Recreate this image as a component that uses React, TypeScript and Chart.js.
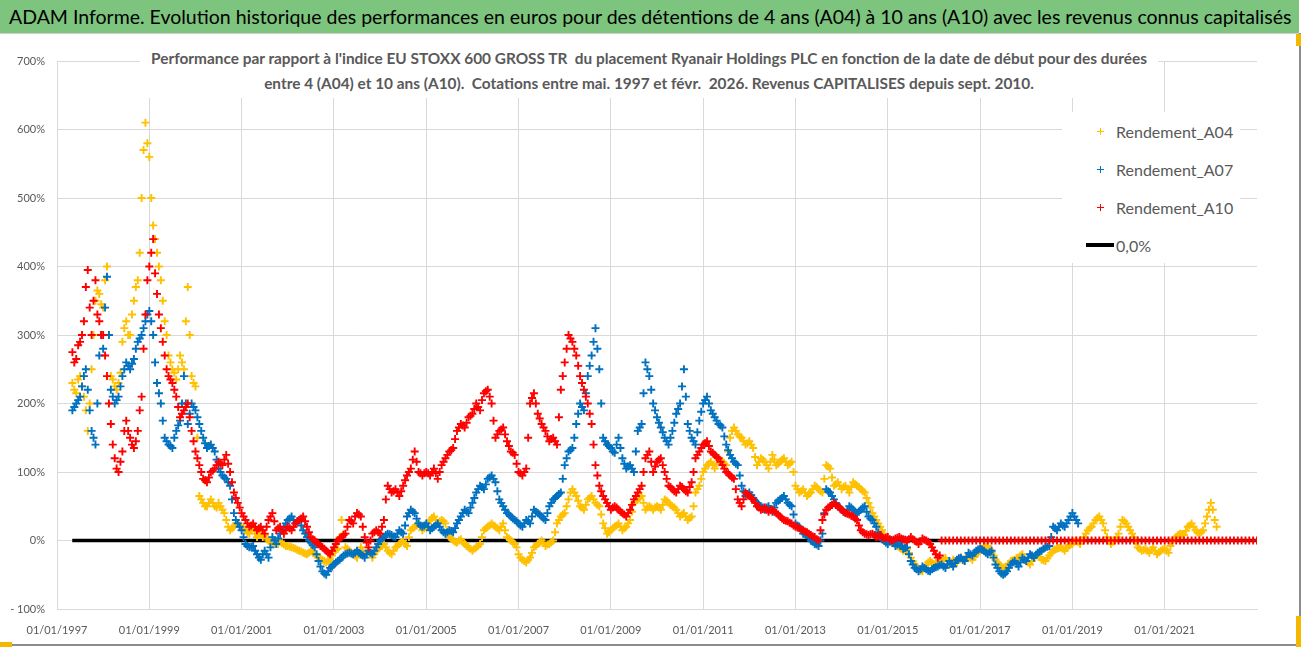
import React, { useEffect, useRef } from "react";
import { Chart, registerables } from "chart.js";

Chart.register(...registerables);

const TITLE =
  "ADAM Informe. Evolution historique des performances en euros pour des détentions de 4 ans (A04) à 10 ans (A10) avec les revenus connus capitalisés";
const SUBTITLE_1 =
  "Performance par rapport à l'indice EU STOXX 600 GROSS TR  du placement Ryanair Holdings PLC en fonction de la date de début pour des durées";
const SUBTITLE_2 =
  "entre 4 (A04) et 10 ans (A10).  Cotations entre mai. 1997 et févr.  2026. Revenus CAPITALISES depuis sept. 2010.";

const SERIES_NAMES = ["Rendement_A04", "Rendement_A07", "Rendement_A10", "0,0%"];
const SERIES_COLORS = ["#FFC000", "#0070C0", "#FF0000", "#000000"];

// observations: start of each month and mid-month, first one = May 1997
const FIRST_YEAR = 1997;
const FIRST_MONTH_INDEX = 4;

const A04 = [
  230, 215, 240, 210, 160, 250, 350, 360,
  340, 400, 240, 225, 230, 290, 320, 300, 350, 380, 500, 610,
  560, 460, 420, 380, 320, 270, 250, 235, 270, 250, 370, 240,
  225, 65, 55, 50, 60, 50, 55, 45, 30, 15, 20, 25,
  20, 15, 10, 18, 5, 10, 8, 0, -5, -3, -2, -6,
  -8, -10, -12, -15, -18, -20, -15, -20, -25, -28, -32, -28,
  -15, -12, 30, -10, -15, -20, -25, -10, -20, -15, -25, -15,
  -10, -5, -15, -20, -10, -5, 0, -8, 15, 20, 25, 15,
  20, 30, 35, 25, 30, 25, 5, 0, -3, 2, -5, -10,
  -15, -10, -5, 15, 20, 25, 20, 15, 25, 5, 0, -5,
  -20, -28, -32, -25, -10, -5, 0, -8, -5, 0, 25, 35,
  40, 60, 75, 65, 50, 45, 60, 65, 55, 50, 25, 10,
  15, 20, 25, 15, 20, 30, 55, 60, 65, 45, 50, 45,
  50, 45, 60, 55, 50, 45, 35, 40, 30, 35, 70, 80,
  100, 110, 115, 105, 120, 115, 110, 150, 165, 155, 150, 140,
  145, 135, 110, 120, 115, 105, 125, 110, 115, 120, 110, 115,
  80, 70, 75, 65, 70, 80, 75, 70, 110, 105, 80, 85,
  75, 80, 70, 85, 80, 75, 70, 55, 40, 30, 20, 10,
  5, -3, -5, -10, -15, -12, -25, -35, -42, -45, -35, -30,
  -35, -32, -30, -25, -35, -28, -32, -25, -30, -22, -28, -20,
  -15, -10, -8, -18, -28, -35, -40, -38, -30, -28, -25, -20,
  -30, -35, -25, -20, -28, -30, -22, -15, -12, -10, -15, -8,
  -5, 0, -5, 5, 15, 20, 30, 35, 25, 5, -5, 0,
  10, 30, 25, 15, 5, -10, -15, -12, -18, -10, -20, -15,
  -12, -18, 0, 5, 10, 8, 20, 25, 15, 10, 15, 35,
  55, 30,
];

const A04_MID = [
  220, 235, 225, 190, 200, 300, 365, 345,
  380, 300, 235, 220, 245, 310, 300, 330, 370, 420, 570, 580,
  500, 440, 400, 350, 300, 260, 245, 250, 260, 320, 300, 230,
  150, 60, 50, 55, 55, 48, 50, 40, 20, 18, 25, 22,
  18, 12, 15, 10, 8, 5, 3, -3, -4, -5, -4, -8,
  -9, -11, -14, -16, -19, -18, -18, -22, -27, -30, -30, -22,
  -14, 5, 10, -12, -18, -22, -18, -15, -18, -20, -20, -12,
  -8, -10, -18, -15, -8, -3, -5, 5, 18, 22, 20, 18,
  25, 33, 30, 28, 28, 15, 3, -2, 0, -2, -8, -12,
  -12, -8, 5, 18, 22, 22, 18, 20, 15, 3, -3, -10,
  -25, -30, -28, -18, -8, -3, -4, -6, -3, 12, 30, 38,
  50, 70, 70, 58, 48, 52, 62, 60, 52, 38, 18, 12,
  18, 22, 20, 18, 25, 42, 58, 62, 55, 48, 48, 48,
  48, 52, 58, 52, 48, 40, 38, 35, 33, 50, 75, 90,
  105, 112, 110, 112, 118, 112, 130, 160, 160, 152, 145, 142,
  140, 122, 115, 118, 110, 115, 118, 112, 118, 115, 112, 100,
  75, 72, 70, 68, 75, 78, 72, 90, 108, 92, 82, 80,
  78, 75, 78, 82, 78, 72, 62, 48, 35, 25, 15, 5,
  0, -4, -8, -12, -14, -18, -30, -38, -44, -40, -32, -32,
  -33, -31, -28, -30, -32, -30, -28, -28, -26, -25, -24, -18,
  -12, -9, -13, -22, -32, -38, -39, -34, -29, -26, -22, -25,
  -32, -30, -22, -24, -29, -26, -18, -13, -11, -12, -11, -6,
  -2, -2, 0, 10, 18, 25, 33, 30, 15, 0, -2, 5,
  20, 28, 20, 10, -2, -12, -14, -15, -14, -15, -17, -13,
  -15, -8, 2, 8, 9, 14, 22, 20, 12, 12, 25, 45,
  45, 20,
];

const A07 = [
  190, 200, 210, 240, 220, 160, 140, 270,
  280, 385, 220, 200, 210, 240, 260, 250, 265, 290, 300, 320,
  335, 300, 230, 200, 150, 140, 135, 160, 175, 240, 170, 200,
  190, 170, 150, 135, 140, 130, 105, 95, 90, 80, 40, 25,
  15, -5, -10, -8, -20, -28, -15, -25, 5, -5, 10, 20,
  30, 35, 25, 30, 15, 5, -3, -10, -30, -45, -50, -40,
  -35, -30, -25, -20, -18, -20, -15, -20, -25, -15, -20, -10,
  0, 5, 10, 8, 5, 15, 10, 35, 45, 40, 25, 20,
  25, 15, 20, 25, 15, 10, 15, 12, 25, 35, 45, 40,
  55, 70, 80, 75, 90, 95, 85, 60, 50, 40, 35, 30,
  25, 20, 30, 25, 45, 40, 35, 30, 50, 60, 65, 70,
  110, 130, 135, 170, 200, 190, 240, 270, 310, 250, 150, 140,
  135, 128, 150, 120, 105, 110, 100, 160, 170, 260, 240, 200,
  180, 165, 150, 140, 160, 185, 200, 250, 170, 150, 140, 175,
  200, 210, 190, 180, 170, 165, 140, 125, 115, 110, 80, 65,
  70, 62, 55, 50, 45, 50, 42, 55, 60, 65, 55, 50,
  25, 20, 10, 8, 0, -5, -8, 10, 75, 70, 60, 50,
  45, 40, 50, 45, 40, 45, 50, 35, 30, 20, 5, 0,
  -5, 0, -8, -5, -12, -10, -30, -40, -45, -38, -42, -45,
  -40, -38, -35, -40, -30, -38, -28, -25, -30, -18, -22, -15,
  -12, -15, -20, -15, -35, -45, -50, -45, -35, -30, -38, -25,
  -30, -20, -25, -18, -15, -10, -8, 20, 15, 25, 20, 30,
  40, 30,
];

const A07_MID = [
  195, 205, 225, 250, 190, 150, 200, 300,
  340, 300, 210, 205, 225, 250, 255, 258, 280, 295, 310, 330,
  320, 260, 215, 175, 145, 138, 150, 168, 200, 200, 185, 195,
  180, 160, 142, 138, 135, 118, 100, 92, 85, 60, 30, 20,
  5, -8, -9, -15, -25, -20, -20, -10, 0, 3, 15, 25,
  32, 30, 28, 22, 10, 0, -7, -20, -38, -48, -45, -38,
  -32, -28, -22, -19, -19, -18, -18, -22, -20, -18, -15, -5,
  3, 8, 9, 6, 10, 12, 22, 40, 42, 32, 22, 22,
  20, 18, 22, 20, 12, 12, 14, 18, 30, 40, 42, 48,
  62, 75, 78, 82, 92, 90, 72, 55, 45, 38, 32, 28,
  22, 25, 28, 35, 42, 38, 32, 40, 55, 62, 68, 90,
  120, 132, 150, 185, 195, 215, 255, 290, 280, 200, 145, 138,
  130, 140, 135, 112, 108, 105, 130, 165, 215, 250, 220, 190,
  172, 158, 145, 150, 172, 192, 225, 210, 160, 145, 158, 188,
  205, 200, 185, 175, 168, 152, 132, 120, 112, 95, 72, 68,
  66, 58, 52, 48, 48, 46, 48, 58, 62, 60, 52, 38,
  22, 15, 9, 4, -2, -6, 0, 40, 72, 65, 55, 48,
  42, 45, 48, 42, 42, 48, 42, 32, 25, 12, 2, -3,
  -2, -4, -6, -8, -11, -20, -35, -42, -42, -40, -44, -42,
  -39, -36, -38, -35, -34, -33, -26, -28, -24, -20, -18, -13,
  -13, -18, -17, -25, -40, -48, -48, -40, -32, -34, -32, -28,
  -25, -22, -21, -16, -12, -9, 5, 18, 20, 22, 25, 35,
  35, 25,
];

const A10 = [
  275, 265, 290, 320, 395, 300, 380, 320,
  300, 240, 170, 120, 100, 130, 175, 150, 135, 160, 210, 330,
  400, 440, 360, 310, 270, 240, 230, 210, 180, 190, 200, 160,
  130, 110, 90, 85, 100, 105, 115, 110, 125, 100, 70, 55,
  40, 30, 20, 25, 15, 20, 10, 30, 40, 15, 20, 10,
  20, 15, 25, 30, 35, 20, 5, 0, -5, -10, -15, -20,
  -10, 0, 5, 10, 30, 25, 40, 35, 5, -10, 10, 15,
  10, 30, 80, 70, 75, 65, 80, 95, 105, 130, 100, 95,
  100, 95, 105, 90, 110, 120, 130, 135, 160, 170, 165, 180,
  185, 200, 190, 215, 220, 200, 150, 160, 165, 145, 130, 125,
  100, 95, 105, 200, 215, 185, 170, 160, 145, 150, 140, 220,
  260, 300, 290, 270, 240, 220, 200, 170, 110, 80, 65, 55,
  45, 50, 45, 40, 35, 45, 60, 70, 80, 120, 130, 100,
  115, 120, 100, 80, 75, 70, 80, 75, 70, 85, 120, 130,
  140, 145, 130, 125, 120, 110, 100, 95, 90, 60, 50, 70,
  65, 60, 50, 45, 48, 42, 45, 40, 35, 30, 28, 25,
  20, 18, 15, 12, 8, 5, 0, 30, 45, 50, 55, 50,
  45, 40, 38, 35, 30, 15, 10, 8, 10, 5, 8, 3,
  5, 0, 3, 5, 2, 0, 5, 0, -5, 3, 0, -5,
  -15, -25, 0, 0, 0, 0, 0, 0, 0, 0, 0, 0,
  0, 0, 0, 0, 0, 0, 0, 0, 0, 0, 0, 0,
  0, 0, 0, 0, 0, 0, 0, 0, 0, 0, 0, 0,
  0, 0, 0, 0, 0, 0, 0, 0, 0, 0, 0, 0,
  0, 0, 0, 0, 0, 0, 0, 0, 0, 0, 0, 0,
  0, 0, 0, 0, 0, 0, 0, 0, 0, 0, 0, 0,
  0, 0, 0, 0, 0, 0, 0, 0, 0, 0, 0, 0,
  0,
];

const A10_MID = [
  260, 285, 300, 370, 340, 350, 330, 300,
  270, 200, 140, 105, 115, 160, 160, 140, 145, 190, 280, 380,
  420, 390, 330, 290, 250, 235, 220, 195, 185, 195, 180, 145,
  120, 100, 88, 92, 102, 110, 112, 118, 112, 85, 62, 48,
  35, 25, 22, 20, 18, 15, 20, 35, 28, 18, 15, 15,
  18, 20, 28, 32, 28, 12, 2, -3, -8, -12, -18, -15,
  -5, 3, 8, 20, 28, 35, 38, 20, -3, 0, 12, 12,
  20, 60, 75, 72, 70, 72, 88, 100, 118, 115, 98, 98,
  98, 100, 98, 100, 115, 125, 132, 148, 165, 168, 172, 182,
  192, 195, 205, 218, 210, 175, 155, 162, 155, 138, 128, 112,
  98, 100, 150, 208, 200, 178, 165, 152, 148, 145, 180, 240,
  280, 295, 280, 255, 230, 210, 185, 140, 95, 72, 60, 50,
  48, 48, 42, 38, 40, 52, 65, 75, 100, 125, 115, 108,
  118, 110, 90, 78, 72, 75, 78, 72, 78, 100, 125, 135,
  142, 138, 128, 122, 115, 105, 98, 92, 75, 55, 60, 68,
  62, 55, 48, 46, 45, 44, 42, 38, 32, 29, 26, 22,
  19, 16, 13, 10, 6, 2, 15, 38, 48, 52, 52, 48,
  42, 39, 36, 32, 22, 12, 9, 9, 8, 6, 5, 4,
  2, 1, 4, 3, 1, 2, 2, -2, -1, 1, -2, -10,
  -20, -22,
];

const ZERO_LINE_X = [1997.33, 2023];
const ZERO_LINE_Y = [0, 0];

const X_TICKS = [1997, 1999, 2001, 2003, 2005, 2007, 2009, 2011, 2013, 2015, 2017, 2019, 2021];
const X_MIN = 1997;
const X_MAX = 2023;
const Y_MIN = -100;
const Y_MAX = 700;
const Y_STEP = 100;

const FONT = "Lato, 'Open Sans', 'Liberation Sans', sans-serif";
const TEXT_GRAY = "#595959";
const GRID = "#d9d9d9";

function toPoints(values: number[], halfMonth: number) {
  return values.map((v, i) => ({ x: FIRST_YEAR + (FIRST_MONTH_INDEX + i + halfMonth) / 12, y: v }));
}

export default function App() {
  const canvasRef = useRef<HTMLCanvasElement | null>(null);

  useEffect(() => {
    const canvas = canvasRef.current;
    if (!canvas) return;
    const mk = (idx: number, values: number[], half: number, order: number) => ({
      label: SERIES_NAMES[idx],
      data: toPoints(values, half),
      showLine: false,
      pointStyle: "cross" as const,
      pointRadius: 4,
      pointBorderWidth: 1.9,
      borderColor: SERIES_COLORS[idx],
      backgroundColor: SERIES_COLORS[idx],
      pointHoverRadius: 4,
      order,
    });
    const chart = new Chart(canvas, {
      type: "scatter",
      data: {
        datasets: [
          mk(0, A04, 0, 3),
          mk(0, A04_MID, 0.5, 3),
          mk(1, A07, 0, 2),
          mk(1, A07_MID, 0.5, 2),
          mk(2, A10, 0, 1),
          mk(2, A10_MID, 0.5, 1),
          {
            label: SERIES_NAMES[3],
            data: ZERO_LINE_X.map((x, i) => ({ x, y: ZERO_LINE_Y[i] })),
            showLine: true,
            borderColor: "#000",
            backgroundColor: "#000",
            borderWidth: 3.5,
            pointRadius: 0,
            order: 4,
          } as any,
        ],
      },
      options: {
        animation: false,
        responsive: false,
        maintainAspectRatio: false,
        layout: { padding: { left: 0, right: 45, top: 61, bottom: 0 } },
        plugins: {
          legend: { display: false },
          tooltip: { enabled: false },
          title: { display: false },
        },
        scales: {
          x: {
            type: "linear",
            min: X_MIN,
            max: X_MAX,
            afterBuildTicks: (s: any) => {
              s.ticks = X_TICKS.map((value) => ({ value }));
            },
            afterFit: (s: any) => {
              s.height = 38;
            },
            grid: { color: GRID, lineWidth: 1, drawTicks: false },
            border: { color: GRID },
            ticks: {
              padding: 15,
              autoSkip: false,
              maxRotation: 0,
              color: TEXT_GRAY,
              font: { family: FONT, size: 11 },
              callback: (v: any) => `01/01/${v}`,
            },
          },
          y: {
            type: "linear",
            min: Y_MIN,
            max: Y_MAX,
            afterFit: (s: any) => {
              s.width = 57;
            },
            grid: { color: GRID, lineWidth: 1, drawTicks: false },
            border: { color: GRID },
            ticks: {
              stepSize: Y_STEP,
              padding: 12,
              color: TEXT_GRAY,
              font: { family: FONT, size: 11 },
              callback: (v: any) => (Number(v) < 0 ? `- ${Math.abs(Number(v))}%` : `${v}%`),
            },
          },
        },
      },
    });
    return () => chart.destroy();
  }, []);

  const cross = (color: string) => (
    <span style={{ position: "relative", display: "inline-block", width: 7, height: 7 }}>
      <span style={{ position: "absolute", left: 0, top: 3, width: 7, height: 1.3, background: color }} />
      <span style={{ position: "absolute", left: 3, top: 0, width: 1.3, height: 7, background: color }} />
    </span>
  );

  const legendRows = [0, 1, 2, 3];

  return (
    <div
      style={{
        position: "absolute",
        left: 0,
        top: 0,
        width: 1302,
        height: 647,
        background: "#fff",
        overflow: "hidden",
        fontFamily: FONT,
      }}
    >
      <canvas ref={canvasRef} width={1302} height={647} style={{ position: "absolute", left: 0, top: 0 }} />
      <div
        style={{
          position: "absolute",
          left: 0,
          top: 0,
          width: 1299,
          height: 33,
          background: "#7DC47E",
          color: "#000",
          fontSize: 19.5,
          lineHeight: "33px",
          paddingLeft: 9,
          whiteSpace: "pre",
          boxSizing: "border-box",
        }}
      >
        {TITLE}
      </div>
      <div style={{ position: "absolute", left: 0, top: 33, width: 1299, height: 1, background: "#cfcfcf" }} />
      <div
        style={{
          position: "absolute",
          left: 140,
          top: 46,
          width: 1018,
          height: 52,
          background: "#fff",
          color: TEXT_GRAY,
          fontWeight: 700,
          fontSize: 15.4,
          textAlign: "center",
          whiteSpace: "pre",
          lineHeight: "25px",
        }}
      >
        <div>{SUBTITLE_1}</div>
        <div>{SUBTITLE_2}</div>
      </div>
      <div
        style={{
          position: "absolute",
          left: 1062,
          top: 112,
          width: 178,
          height: 151,
          background: "#fff",
        }}
      >
        {legendRows.map((i) => (
          <div
            key={i}
            style={{
              position: "absolute",
              left: 0,
              top: 7 + i * 38,
              height: 24,
              width: 178,
              display: "flex",
              alignItems: "center",
            }}
          >
            <div style={{ width: 54, display: "flex", justifyContent: "flex-end", paddingRight: 2, boxSizing: "border-box" }}>
              {i < 3 ? (
                <span style={{ marginRight: 10, display: "flex" }}>{cross(SERIES_COLORS[i])}</span>
              ) : (
                <span style={{ display: "inline-block", width: 28, height: 3.5, background: "#000" }} />
              )}
            </div>
            <span style={{ fontSize: 16, color: TEXT_GRAY, whiteSpace: "pre" }}>{SERIES_NAMES[i]}</span>
          </div>
        ))}
      </div>
      <div style={{ position: "absolute", left: 1299, top: 33, width: 1.5, height: 612, background: "#8c8c8c" }} />
      <div style={{ position: "absolute", left: 0, top: 644, width: 1300, height: 1.5, background: "#8c8c8c" }} />
      <div style={{ position: "absolute", left: 1296, top: 34, width: 5, height: 12, background: "#F5B800" }} />
      <div style={{ position: "absolute", left: 1296, top: 616, width: 5, height: 31, background: "#F5B800" }} />
      <div style={{ position: "absolute", left: 0, top: 642, width: 12, height: 5, background: "#F5B800" }} />
    </div>
  );
}
